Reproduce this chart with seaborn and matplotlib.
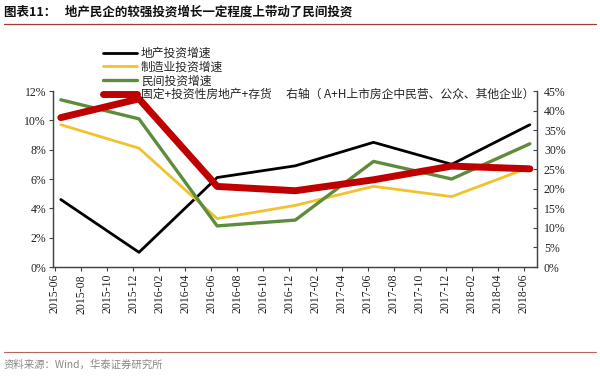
import matplotlib
matplotlib.use("Agg")
import matplotlib.pyplot as plt
import seaborn as sns
import pandas as pd
import numpy as np

# ---- data ----
periods = ["2015-06", "2015-12", "2016-06", "2016-12", "2017-06", "2017-12", "2018-06"]
realestate = [4.6, 1.0, 6.1, 6.9, 8.5, 7.0, 9.7]        # 地产投资增速 (%)
manufacturing = [9.7, 8.1, 3.3, 4.2, 5.5, 4.8, 6.8]     # 制造业投资增速 (%)
private = [11.4, 10.1, 2.8, 3.2, 7.2, 6.0, 8.4]         # 民间投资增速 (%)
fixed_inv = [38.2, 43.0, 20.6, 19.5, 22.3, 25.8, 25.1]  # 右轴 (%)
tick_labels = ["2015-06", "2015-08", "2015-10", "2015-12", "2016-02", "2016-04", "2016-06",
               "2016-08", "2016-10", "2016-12", "2017-02", "2017-04", "2017-06", "2017-08",
               "2017-10", "2017-12", "2018-02", "2018-04", "2018-06"]

names = ["地产投资增速", "制造业投资增速", "民间投资增速",
         "固定+投资性房地产+存货　 右轴（ A+H上市房企中民营、公众、其他企业）"]
colors = ["#000000", "#F2C12E", "#5E8C3C", "#C00000"]
widths = [2.0, 2.0, 2.4, 5.0]

sns.set_theme(style="white")
plt.rcParams['font.family'] = ['Noto Sans CJK SC', 'DejaVu Sans']

def month_index(p):
    y, m = p.split("-")
    return (int(y) - 2015) * 12 + int(m) - 6

x_data = [month_index(p) + 0.45 for p in periods]
x_ticks = [month_index(t) for t in tick_labels]

df_left = pd.DataFrame({
    "x": x_data * 3,
    "v": realestate + manufacturing + private,
    "s": [names[0]] * 7 + [names[1]] * 7 + [names[2]] * 7,
})
df_right = pd.DataFrame({"x": x_data, "v": fixed_inv, "s": [names[3]] * 7})

fig = plt.figure(figsize=(6.0, 3.76), dpi=100)
ax = fig.add_axes([53/600, 1-267/376, (537-53)/600, (267-91)/376])
ax2 = ax.twinx()

for i in range(3):
    sns.lineplot(data=df_left[df_left.s == names[i]], x="x", y="v", ax=ax,
                 color=colors[i], linewidth=widths[i], label=names[i], legend=False)
sns.lineplot(data=df_right, x="x", y="v", ax=ax2, color=colors[3],
             linewidth=widths[3], label=names[3], legend=False,
             solid_capstyle="round")

ax.set_xlim(-0.15, 37.0)
ax.set_ylim(0, 12)
ax2.set_ylim(0, 45)
ax.set_xlabel("")
ax.set_ylabel("")
ax2.set_ylabel("")

serif = "Liberation Serif"
ax.set_xticks(x_ticks)
ax.set_xticklabels(tick_labels, rotation=90, fontsize=8.5, family=serif, color="#222222")
ax.set_yticks(np.arange(0, 13, 2))
ax.set_yticklabels([f"{v}%" for v in range(0, 13, 2)], fontsize=8.5, family=serif, color="#222222")
ax2.set_yticks(np.arange(0, 46, 5))
ax2.set_yticklabels([f"{v}%" for v in range(0, 46, 5)], fontsize=8.5, family=serif, color="#222222")

for a in (ax, ax2):
    a.spines["top"].set_visible(False)
    for s in ("left", "right", "bottom"):
        a.spines[s].set_color("#444444")
        a.spines[s].set_linewidth(0.9)
ax.tick_params(axis="x", direction="out", length=3, width=0.8, color="#444444", pad=2, bottom=True)
ax.tick_params(axis="y", direction="out", length=3, width=0.8, color="#444444", pad=2, left=True)
ax2.tick_params(axis="y", direction="in", length=3, width=0.8, color="#444444", pad=5, right=True)
ax.grid(False)
ax2.grid(False)

h1, l1 = ax.get_legend_handles_labels()
h2, l2 = ax2.get_legend_handles_labels()
fig.legend(h1 + h2, l1 + l2, loc="upper left", bbox_to_anchor=(103/600, 1-47/376),
           frameon=False, fontsize=8.5, handlelength=2.9, handletextpad=0.3,
           labelspacing=0.05, borderaxespad=0, borderpad=0)

fig.text(4/600, 1-12/376, "图表11：   地产民企的较强投资增长一定程度上带动了民间投资",
         fontsize=9, fontweight="bold", va="center", ha="left", color="#111111")
fig.add_artist(plt.Line2D([4/600, 596/600], [1-24/376, 1-24/376], color="#9E3B33", linewidth=0.9))
fig.add_artist(plt.Line2D([4/600, 596/600], [1-352/376, 1-352/376], color="#B5655C", linewidth=0.8))
fig.text(4/600, 1-365/376, "资料来源：Wind，华泰证券研究所", fontsize=7.5,
         va="center", ha="left", color="#888888")

fig.savefig("out.png", dpi=100)
